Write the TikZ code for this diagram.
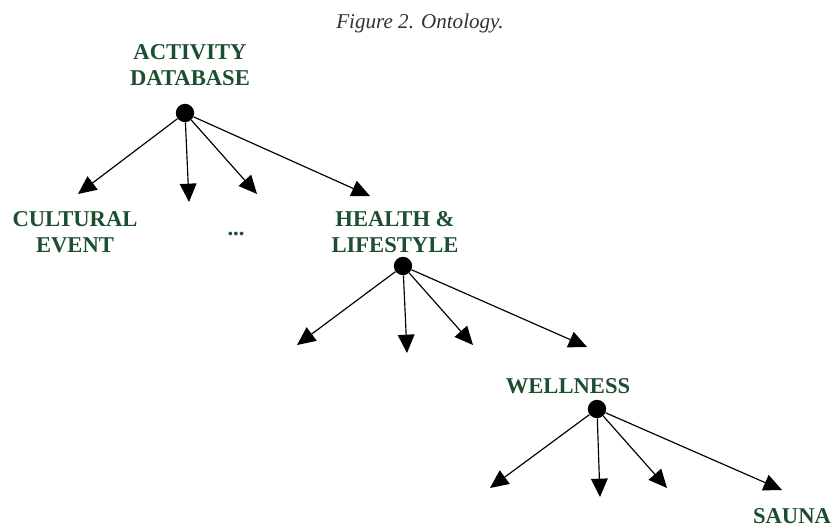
\documentclass[tikz,border=0pt]{standalone}
\usepackage{fontspec}
\setmainfont{Liberation Serif}
\usetikzlibrary{arrows.meta}

\definecolor{ontogreen}{RGB}{28,78,48}
\definecolor{captiongray}{RGB}{50,50,50}

\begin{document}
\begin{tikzpicture}[x=0.03cm,y=-0.03cm,
  concept/.style={text=ontogreen,font=\fontsize{19.3}{22.2}\selectfont\bfseries,align=center,inner sep=0pt},
  hub/.style={circle,fill=black,inner sep=0pt,minimum size=0.55cm},
  link/.style={line width=1pt,-{Triangle[length=0.55cm,width=0.5cm]}}]

\useasboundingbox (0,0) rectangle (834,530);

% Caption
\node[text=captiongray,font=\fontsize{18}{21}\selectfont\itshape,anchor=base] (caption) at (420,28) {Figure 2. Ontology.};

% Hubs of the three levels
\node[hub] (root) at (185,113) {};
\node[hub] (health) at (403,266) {};
\node[hub] (well) at (597,409) {};

% Arrow ends below the root
\coordinate (r1) at (78,194);
\coordinate (r2) at (189,202);
\coordinate (r3) at (257,194);
\coordinate (r4) at (370,196);

% Arrow ends below HEALTH & LIFESTYLE
\coordinate (h1) at (297,345);
\coordinate (h2) at (407,353);
\coordinate (h3) at (473,345);
\coordinate (h4) at (587,347);

% Arrow ends below WELLNESS
\coordinate (w1) at (490,488);
\coordinate (w2) at (600,497);
\coordinate (w3) at (667,488);
\coordinate (w4) at (782,490);

% Draw the arrows
\foreach \t in {r1,r2,r3,r4} \draw[link] (root) -- (\t);
\foreach \t in {h1,h2,h3,h4} \draw[link] (health) -- (\t);
\foreach \t in {w1,w2,w3,w4} \draw[link] (well) -- (\t);

% Labels
\node[concept] (activity) at (190,65) {ACTIVITY\\DATABASE};
\node[concept] (cultural) at (75,232) {CULTURAL\\EVENT};
\node[concept] (dots) at (236,234) {...};
\node[concept] (healthlabel) at (395,232) {HEALTH \&\\LIFESTYLE};
\node[concept] (wellness) at (568,386) {WELLNESS};
\node[concept] (sauna) at (792,516) {SAUNA};

\end{tikzpicture}
\end{document}
